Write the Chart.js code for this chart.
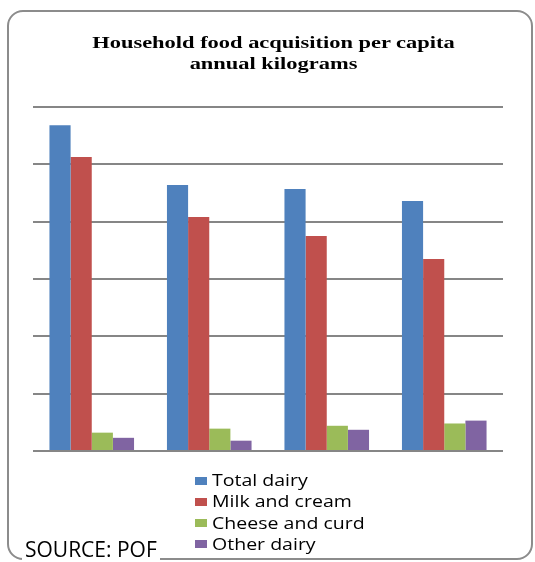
<!DOCTYPE html>
<html>
<head>
<meta charset="utf-8">
<script src="https://cdn.jsdelivr.net/npm/chart.js@4"></script>
<style>
    body { margin: 0; background: #ffffff; }
    #wrap { position: relative; width: 535px; height: 562px; overflow: hidden; background: #ffffff; }
    #frame {
        position: absolute; left: 7px; top: 10px; width: 526px; height: 550px;
        box-sizing: border-box; border: 2px solid #8c8c8c; border-radius: 16px;
    }
    #chart { position: absolute; left: 0; top: 0; }
    #title {
        position: absolute; left: 5.5px; top: 31.5px; width: 535px;
        font: bold 17px "Liberation Serif", "Times New Roman", serif; line-height: 21px;
        text-align: center; color: #000; transform: scaleX(1.32); transform-origin: 267.5px 0;
    }
    .leg-box { position: absolute; left: 195px; width: 12px; height: 8px; }
    .leg-text {
        position: absolute; left: 211.5px; white-space: nowrap; color: #000;
        font: 15.5px "Open Sans", sans-serif; line-height: 15.5px;
        transform: scaleX(1.26); transform-origin: 0 0;
    }
    #source {
        position: absolute; left: 22px; top: 539.3px; padding: 0 3px; background: #ffffff;
        font: 21px "Open Sans", sans-serif; line-height: 21px; color: #000; white-space: nowrap;
    }
</style>
</head>
<body>
<div id="wrap">
    <div id="frame"></div>
    <canvas id="chart" width="535" height="562"></canvas>
    <div id="title">Household food acquisition per capita<br>annual kilograms</div>
    <div id="legend"></div>
    <div id="source">SOURCE: POF</div>
</div>
<script>
// Data (annual kg per capita)
const categories = ['1987-88', '1995-96', '2002-03', '2008-09'];
const totalDairy = [56.8, 46.4, 45.7, 43.6];
const milkAndCream = [51.3, 40.8, 37.5, 33.5];
const cheeseAndCurd = [3.2, 3.9, 4.4, 4.8];
const otherDairy = [2.3, 1.8, 3.7, 5.3];

const seriesNames = ['Total dairy', 'Milk and cream', 'Cheese and curd', 'Other dairy'];
const seriesColors = ['#4f81bd', '#c0504d', '#9bbb59', '#8064a2'];
const seriesValues = [totalDairy, milkAndCream, cheeseAndCurd, otherDairy];

const yMin = 0;
const yMax = 60;
const yStep = 10;

const datasets = seriesNames.map((name, i) => ({
    label: name,
    data: seriesValues[i],
    backgroundColor: seriesColors[i],
    borderWidth: 0,
    categoryPercentage: 0.72,
    barPercentage: 1.0
}));

new Chart(document.getElementById('chart').getContext('2d'), {
    type: 'bar',
    data: { labels: categories, datasets: datasets },
    options: {
        responsive: false,
        animation: false,
        devicePixelRatio: 1,
        layout: { padding: { top: 107, left: 33, right: 32, bottom: 111 } },
        scales: {
            x: { display: false },
            y: {
                min: yMin,
                max: yMax,
                ticks: { display: false, stepSize: yStep },
                grid: { color: '#868686', lineWidth: 2, drawTicks: false },
                border: { display: false }
            }
        },
        plugins: {
            legend: { display: false },
            title: { display: false },
            tooltip: { enabled: false }
        }
    }
});

// Vertical legend below the plot
const legendEl = document.getElementById('legend');
seriesNames.forEach((name, i) => {
    const box = document.createElement('div');
    box.className = 'leg-box';
    box.style.top = (476.5 + i * 21.2) + 'px';
    box.style.background = seriesColors[i];
    legendEl.appendChild(box);

    const text = document.createElement('div');
    text.className = 'leg-text';
    text.style.top = (473.2 + i * 21.2) + 'px';
    text.textContent = name;
    legendEl.appendChild(text);
});
</script>
</body>
</html>
